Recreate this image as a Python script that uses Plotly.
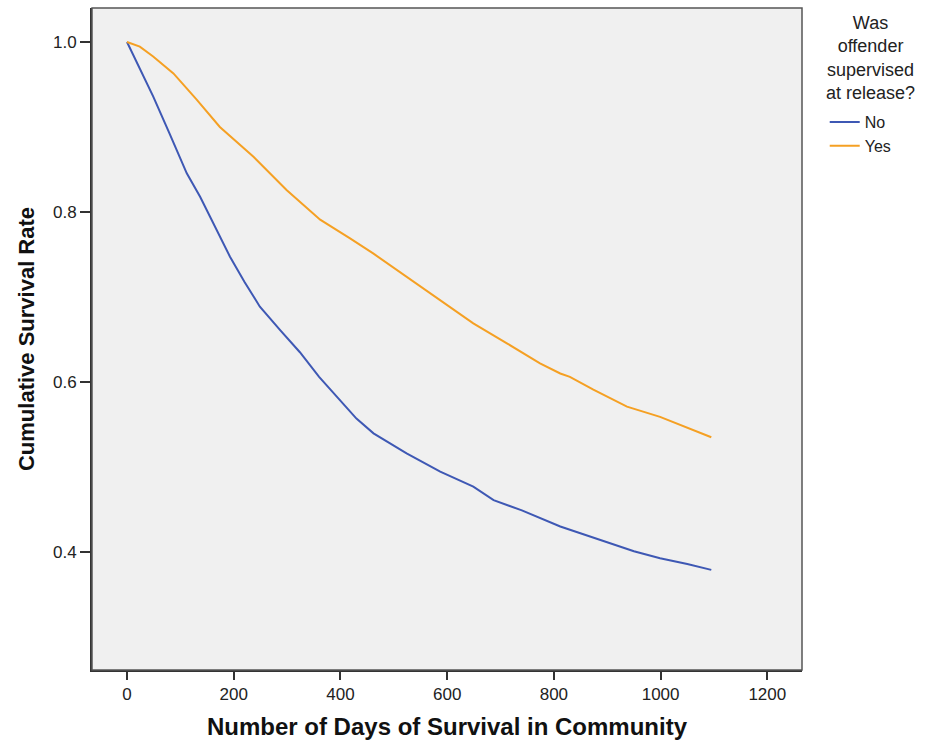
import plotly.graph_objects as go

# Survival estimates
no_days = [0, 25, 49, 80, 112, 137, 165, 193, 220, 249, 287, 324, 360, 399, 430, 462, 524, 587, 649, 687, 740, 812, 860, 905, 950, 999, 1050, 1095]
no_surv = [1.0, 0.968, 0.936, 0.892, 0.8455, 0.818, 0.783, 0.7474, 0.718, 0.6886, 0.661, 0.635, 0.606, 0.579, 0.557, 0.5396, 0.516, 0.4945, 0.477, 0.461, 0.449, 0.430, 0.420, 0.410, 0.401, 0.3926, 0.386, 0.379]

yes_days = [0, 24, 49, 87, 131, 174, 237, 299, 362, 399, 418, 462, 524, 587, 649, 712, 774, 812, 830, 874, 937, 999, 1030, 1060, 1095]
yes_surv = [1.0, 0.9945, 0.983, 0.963, 0.932, 0.900, 0.865, 0.826, 0.791, 0.777, 0.769, 0.751, 0.724, 0.696, 0.669, 0.6455, 0.622, 0.610, 0.606, 0.591, 0.571, 0.559, 0.5514, 0.544, 0.535]

x_ticks = [0, 200, 400, 600, 800, 1000, 1200]
y_ticks = [0.4, 0.6, 0.8, 1.0]

legend_title = "Was<br>offender<br>supervised<br>at release?"

fig = go.Figure()
fig.add_trace(go.Scatter(x=no_days, y=no_surv, mode="lines", name="No",
                         line=dict(color="#3e58b4", width=2)))
fig.add_trace(go.Scatter(x=yes_days, y=yes_surv, mode="lines", name="Yes",
                         line=dict(color="#f5a023", width=2)))

font_family = "Liberation Sans, Arial, sans-serif"

# plot area: x 92..802 px, y 8..670 px
def py(ypx):
    return (670 - ypx) / 662.0

fig.update_layout(
    width=927, height=747,
    margin=dict(l=92, r=125, t=8, b=77),
    paper_bgcolor="white",
    plot_bgcolor="#f0f0f0",
    font=dict(family=font_family, color="#222222"),
    showlegend=True,
    legend=dict(
        x=1.032, y=py(105), xanchor="left", yanchor="top",
        font=dict(size=16, color="#222222"),
        tracegroupgap=0, itemwidth=30,
        bgcolor="rgba(0,0,0,0)",
    ),
    annotations=[dict(
        text=legend_title, xref="paper", yref="paper",
        x=(870 - 92) / 710.0, y=py(58), align="center",
        xanchor="center", yanchor="middle", showarrow=False,
        font=dict(size=18, color="#222222", family=font_family),
    )],
    xaxis=dict(
        range=[-65.6, 1265], tickvals=x_ticks, ticktext=[str(v) for v in x_ticks],
        showgrid=False, zeroline=False,
        showline=True, linecolor="#333333", linewidth=2,
        ticks="outside", ticklen=8, tickwidth=2, tickcolor="#333333",
        tickfont=dict(size=17, color="#222222"),
        title=dict(text="<b>Number of Days of Survival in Community</b>",
                   font=dict(size=24, color="#111111"), standoff=15),
    ),
    yaxis=dict(
        range=[0.2612, 1.04], tickvals=y_ticks, ticktext=["%.1f" % v for v in y_ticks],
        showgrid=False, zeroline=False,
        showline=True, linecolor="#333333", linewidth=2,
        ticks="outside", ticklen=10, tickwidth=2, tickcolor="#333333",
        tickfont=dict(size=17, color="#222222"),
        title=dict(text="<b>Cumulative Survival Rate</b>",
                   font=dict(size=22, color="#111111"), standoff=12),
    ),
    shapes=[dict(type="rect", xref="paper", yref="paper", x0=0, y0=0, x1=1, y1=1,
                 line=dict(color="#555555", width=1.5), layer="above")],
)

fig.write_html("out.html")
